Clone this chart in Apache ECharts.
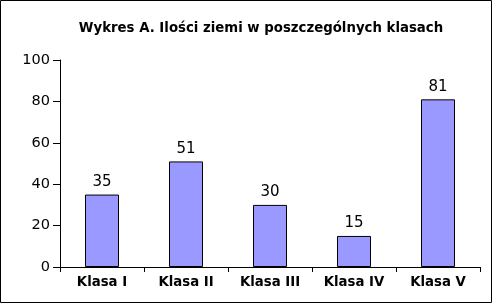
<!DOCTYPE html>
<html><head><meta charset="utf-8">
<script src="https://cdn.jsdelivr.net/npm/echarts@6/dist/echarts.min.js"></script>
<style>html,body{margin:0;padding:0;background:#fff}#c{width:492px;height:303px}</style>
</head><body><div id="c"></div>
<script>
const categories = ['Klasa I','Klasa II','Klasa III','Klasa IV','Klasa V'];
const values = [35, 51, 30, 15, 81];
const yTicks = [0, 20, 40, 60, 80, 100];
const titleText = 'Wykres A. Ilości ziemi w poszczególnych klasach';

const chart = echarts.init(document.getElementById('c'), null, {renderer:'canvas'});
const font = 'DejaVu Sans';
chart.setOption({
  animation:false,
  backgroundColor:'#fff',
  textStyle:{fontFamily:font},
  title:{text:titleText, left:256, top:17, textAlign:'center',
    textStyle:{fontFamily:font, fontSize:13.3, fontWeight:'bold', color:'#000'}},
  graphic:[{type:'rect', shape:{x:0.5,y:0.5,width:491,height:302}, style:{fill:null, stroke:'#000', lineWidth:1}, z:100}],
  grid:{left:60, right:12, top:60, bottom:36, containLabel:false},
  xAxis:{type:'category', data:categories,
    axisLine:{lineStyle:{color:'#000', width:1}},
    axisTick:{show:true, length:5, lineStyle:{color:'#000'}},
    axisLabel:{color:'#000', fontFamily:font, fontSize:13.3, fontWeight:'bold', margin:9}},
  yAxis:{type:'value', min:yTicks[0], max:yTicks[yTicks.length-1], interval:20,
    axisLine:{show:true, lineStyle:{color:'#000', width:1}},
    axisTick:{show:true, length:7, lineStyle:{color:'#000'}},
    splitLine:{show:false},
    axisLabel:{color:'#000', fontFamily:font, fontSize:14.5, margin:10}},
  series:[{type:'bar', data:values, barWidth:34,
    itemStyle:{color:'#9999ff', borderColor:'#000', borderWidth:1},
    label:{show:true, position:'top', distance:5, color:'#000', fontFamily:font, fontSize:15}}]
});
</script></body></html>
